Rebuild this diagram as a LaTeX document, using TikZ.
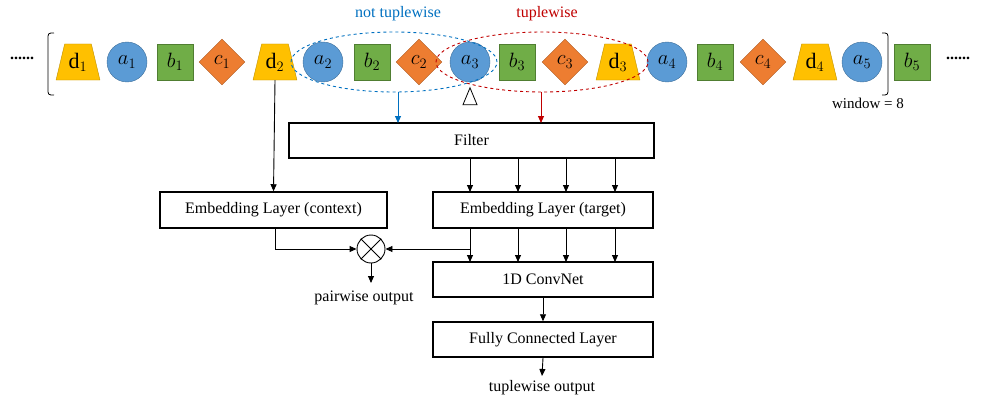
\documentclass[tikz,border=0pt]{standalone}
\usepackage{fontspec}
\setmainfont{Liberation Serif}
\usetikzlibrary{shapes.geometric,arrows.meta}
\definecolor{cy}{HTML}{FFC000}\definecolor{cyd}{HTML}{BF9000}
\definecolor{cb}{HTML}{5B9BD5}\definecolor{cbd}{HTML}{41719C}
\definecolor{cg}{HTML}{70AD47}\definecolor{cgd}{HTML}{507E32}
\definecolor{co}{HTML}{ED7D31}\definecolor{cod}{HTML}{AE5A21}
\definecolor{lblue}{HTML}{0070C0}\definecolor{lred}{HTML}{C00000}
\tikzset{
 tk/.style={font=\fontsize{22}{22}\selectfont},
 sa/.style={circle,fill=cb,draw=cbd,minimum size=40pt,inner sep=0pt,tk},
 sb/.style={rectangle,fill=cg,draw=cgd,minimum width=36pt,minimum height=36pt,inner sep=0pt,tk},
 sc/.style={diamond,fill=co,draw=cod,minimum width=46pt,minimum height=46pt,inner sep=0pt,tk},
 sd/.style={trapezium,trapezium angle=72,fill=cy,draw=cyd,minimum width=44pt,minimum height=36pt,inner sep=0pt,trapezium stretches=true,tk},
 box/.style={draw,line width=1.5pt,inner sep=0pt,font=\fontsize{16}{16}\selectfont},
 lab/.style={font=\fontsize{16}{16}\selectfont},
 arr/.style={-{Triangle[length=7pt,width=6pt]},line width=0.9pt},
}
\begin{document}
\begin{tikzpicture}[x=1pt,y=-1pt]
\useasboundingbox (0,0) rectangle (982,404);
\node[lab] (dl) at (22,58) {\textbf{......}};
\node[lab] (dr) at (958,58) {\textbf{......}};
\draw[line width=0.8pt] (54,33) coordinate (lb1) .. controls (48,33) .. (48,40) -- (48,88) .. controls (48,95) .. (54,95);
\draw[line width=0.8pt] (882,33) .. controls (888,33) .. (888,40) -- (888,88) .. controls (888,95) .. (882,95);
\node[sd] (d1) at (78,62) {d$_1$};
\node[sa] (a1) at (127,62) {$a_1$};
\node[sb] (b1) at (175,62) {$b_1$};
\node[sc] (c1) at (222,62) {$c_1$};
\node[sd] (d2) at (275,62) {d$_2$};
\node[sa] (a2) at (323,62) {$a_2$};
\node[sb] (b2) at (372,62) {$b_2$};
\node[sc] (c2) at (419,62) {$c_2$};
\node[sa] (a3) at (470,62) {$a_3$};
\node[sb] (b3) at (517,62) {$b_3$};
\node[sc] (c3) at (565,62) {$c_3$};
\node[sd] (d3) at (618,62) {d$_3$};
\node[sa] (a4) at (667,62) {$a_4$};
\node[sb] (b4) at (715,62) {$b_4$};
\node[sc] (c4) at (763,62) {$c_4$};
\node[sd] (d4) at (815,62) {d$_4$};
\node[sa] (a5) at (862,62) {$a_5$};
\node[sb] (b5) at (912,62) {$b_5$};
\node[ellipse,draw=lblue,dashed,line width=0.9pt,minimum width=206pt,minimum height=60pt] (eb) at (394,62) {};
\node[ellipse,draw=lred,dashed,line width=0.9pt,minimum width=212pt,minimum height=60pt] (er) at (542,62) {};
\node[lab,text=lblue] (nt) at (398,14) {not tuplewise};
\node[lab,text=lred] (tw) at (547,14) {tuplewise};
\node[draw,isosceles triangle,shape border rotate=90,minimum width=14pt,minimum height=11pt,inner sep=0pt,line width=0.8pt] (tri) at (470,100) {};
\node[font=\fontsize{15}{15}\selectfont] (win) at (868,103) {window = 8};
\node[box,minimum width=365pt,minimum height=35pt] (filter) at (471.5,140.5) {Filter};
\node[box,minimum width=227pt,minimum height=36pt] (ctx) at (273.5,210) {Embedding Layer (context)};
\node[box,minimum width=220pt,minimum height=36pt] (tgt) at (543,210) {Embedding Layer (target)};
\node[box,minimum width=220pt,minimum height=35pt] (conv) at (543,279.5) {1D ConvNet};
\node[box,minimum width=220pt,minimum height=35pt] (fc) at (543,339.5) {Fully Connected Layer};
\node[circle,draw,line width=0.9pt,minimum size=28pt,inner sep=0pt] (ot) at (371,249) {};
\draw[line width=0.9pt] (ot.north west) -- (ot.south east) (ot.north east) -- (ot.south west);
\node[lab] (po) at (364,298) {pairwise output};
\node[lab] (to) at (542,388) {tuplewise output};
\coordinate (pe) at (371,283);
\coordinate (te) at (542,376);
\draw[arr,draw=lblue,-{Triangle[length=7pt,width=6pt,fill=lblue]}] (398,92) -- (398,123);
\draw[arr,draw=lred] (541,92) -- (541,123);
\draw[arr] (d2.south) -- (ctx.north);
\foreach \x in {470,518,566,615}{
 \draw[arr] (\x,158) -- (\x,192);
 \draw[arr] (\x,228) -- (\x,262);}
\draw[arr] (275,228) |- (ot.west);
\draw[arr] (470,249) -- (ot.east);
\draw[arr] (ot.south) -- (pe);
\draw[arr] (conv.south) -- (fc.north);
\draw[arr] (fc.south) -- (te);
\end{tikzpicture}
\end{document}
